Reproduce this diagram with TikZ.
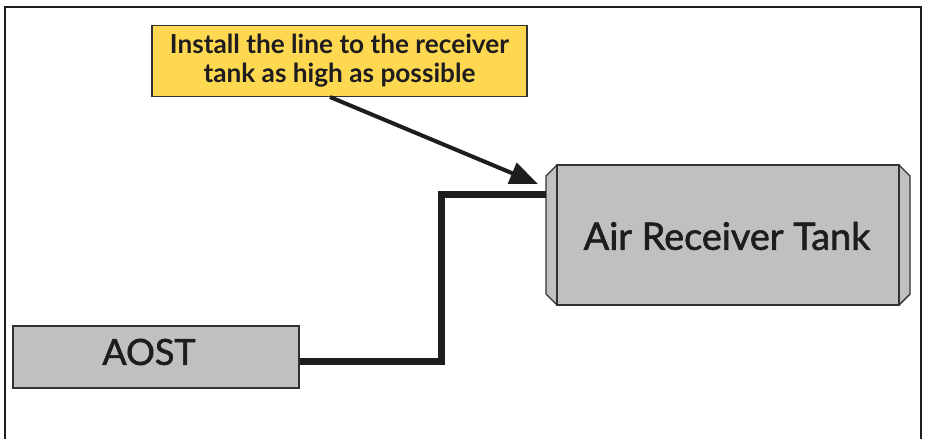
\documentclass[tikz,border=0pt]{standalone}
\usepackage{fontspec}
\setmainfont{Lato}
\newfontfamily\medfont{Lato}[FakeBold=1.6]
\usetikzlibrary{arrows.meta,calc}
\definecolor{tankgray}{RGB}{192,192,192}
\definecolor{edgegray}{RGB}{50,50,50}
\definecolor{noteyellow}{RGB}{253,216,80}
\definecolor{ink}{RGB}{30,28,30}
\tikzset{
  frameline/.style={draw=ink,line width=2pt},
  graybox/.style={draw=edgegray,fill=tankgray,line width=1.4pt,inner sep=0pt},
  notebox/.style={draw=edgegray,fill=noteyellow,line width=1.6pt,inner sep=0pt,align=center,font=\bfseries\fontsize{26.2}{29}\selectfont,text=ink},
  pipe/.style={draw=ink,line width=7pt},
  pointer/.style={draw=ink,line width=4pt,-{Triangle[length=28pt,width=22pt]}},
  label/.style={font=\medfont\fontsize{36}{40}\selectfont,text=ink},
}
\begin{document}
\begin{tikzpicture}[x=1pt,y=-1pt]
\useasboundingbox (0,0) rectangle (927,439);
% outer frame
\draw[frameline] (5,445) -- (5,7) -- (921,7) -- (921,445);
% callout
\node[notebox,minimum width=375pt,minimum height=71pt] (note) at (339.5,61) {Install the line to the receiver\\tank as high as possible};
% tank caps
\draw[graybox,line join=round] (557,165) -- (546,176) -- (546,294) -- (557,305) -- (899,305) -- (910,294) -- (910,176) -- (899,165) -- cycle;
\node[graybox,minimum width=342pt,minimum height=140pt] (tank) at (728,235) {};
\node[label,font=\medfont\fontsize{37.8}{42}\selectfont] (tanklabel) at (727,236) {Air Receiver Tank};
% AOST
\node[graybox,minimum width=286pt,minimum height=62pt] (aost) at (156,357) {};
\node[label] (aostlabel) at (149,352) {AOST};
% pipe
\coordinate (inlet) at (546,194);
\coordinate (elbow) at (441,194);
\draw[pipe,line join=miter] ([yshift=-4pt]aost.east) -- ([yshift=-4pt]aost.east -| elbow) -- (elbow) -- (inlet);
% pointer arrow
\coordinate (tip) at (538,184);
\draw[pointer] (330,97) -- (tip);
\end{tikzpicture}
\end{document}
